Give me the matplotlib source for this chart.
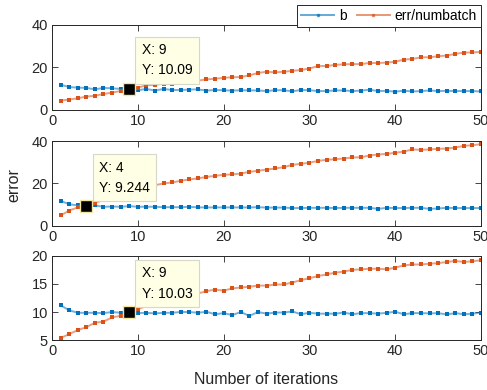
import matplotlib as mpl
mpl.use('Agg')
import matplotlib.pyplot as plt
import numpy as np

plt.rcParams['font.family'] = ['Liberation Sans', 'DejaVu Sans']

iters = np.arange(1, 51)

# run 1
b1 = [11.9, 10.8, 10.5, 10.4, 9.7, 10.4, 10.2, 9.9, 10.09, 9.3,
      9.9, 9.1, 9.9, 9.4, 9.4, 9.6, 9.7, 9.1, 9.4, 9.3,
      9.1, 9.3, 9.2, 9.2, 8.9, 9.3, 9.3, 8.8, 9.4, 9.3,
      8.9, 8.9, 9.2, 9.2, 8.9, 9.1, 9.5, 8.9, 9.0, 8.6,
      9.1, 8.7, 8.9, 9.2, 8.9, 9.0, 8.9, 8.9, 8.9, 8.7]
e1 = [4.4, 4.9, 5.5, 6.3, 6.7, 7.5, 8.2, 8.9, 9.6, 10.5,
      11.6, 11.8, 12.4, 12.4, 13.0, 13.3, 13.8, 14.4, 14.7, 15.1,
      15.4, 15.5, 16.3, 17.4, 18.0, 17.7, 18.0, 18.4, 18.8, 19.5,
      20.7, 20.7, 21.2, 21.5, 21.6, 21.6, 22.1, 22.1, 22.3, 22.7,
      23.7, 24.0, 24.8, 24.8, 25.3, 25.6, 26.4, 27.0, 27.1, 27.3]

# run 2
b2 = [11.8, 10.2, 9.6, 9.244, 9.6, 9.0, 9.1, 9.0, 9.3, 9.0,
      9.0, 9.0, 8.8, 8.8, 8.8, 9.0, 8.7, 8.7, 8.7, 8.7,
      8.7, 8.7, 8.7, 8.8, 8.6, 8.6, 8.6, 8.4, 8.4, 8.5,
      8.5, 8.5, 8.4, 8.5, 8.5, 8.5, 8.5, 8.0, 8.5, 8.4,
      8.4, 8.5, 8.5, 8.0, 8.2, 8.5, 8.4, 8.4, 8.4, 8.4]
e2 = [4.9, 7.2, 8.7, 9.8, 10.9, 12.1, 12.8, 13.6, 14.8, 16.4,
      17.9, 19.2, 20.0, 20.5, 21.3, 21.9, 22.4, 23.1, 23.6, 24.1,
      24.3, 24.7, 25.5, 26.0, 26.6, 27.1, 27.7, 28.8, 29.3, 29.8,
      30.7, 31.2, 31.5, 31.8, 32.3, 32.4, 33.2, 33.7, 34.0, 34.5,
      35.1, 36.1, 35.9, 36.1, 36.4, 36.5, 37.0, 37.8, 38.1, 38.6]

# run 3
b3 = [11.2, 10.3, 9.86, 9.86, 9.86, 9.8, 10.0, 9.86, 10.03, 9.8,
      9.86, 9.74, 9.86, 9.86, 10.0, 10.0, 9.86, 10.04, 9.6, 9.8,
      9.45, 10.0, 9.3, 10.0, 9.7, 9.9, 9.9, 10.1, 9.6, 9.86,
      9.7, 9.7, 9.7, 9.9, 9.6, 9.8, 9.8, 9.7, 9.86, 10.04,
      9.6, 9.8, 9.8, 9.75, 9.8, 9.56, 9.8, 9.6, 9.7, 9.9]
e3 = [5.36, 6.07, 6.78, 7.3, 8.08, 8.3, 9.03, 9.33, 9.9, 10.5,
      11.05, 11.46, 11.7, 12.2, 12.6, 12.9, 13.3, 13.7, 14.0, 13.8,
      14.2, 14.37, 14.5, 14.7, 14.7, 14.9, 14.9, 15.25, 15.67, 16.03,
      16.4, 16.7, 17.0, 17.2, 17.5, 17.6, 17.7, 17.7, 17.6, 17.9,
      18.3, 18.46, 18.46, 18.6, 18.7, 18.9, 19.1, 18.9, 19.05, 19.2]

panels = [(b1, e1, [0, 40], [0, 20, 40], 9, b1[8]),
          (b2, e2, [0, 40], [0, 20, 40], 4, b2[3]),
          (b3, e3, [5, 20], [5, 10, 15, 20], 9, b3[8])]

blue = '#0072BD'
orange = '#D95319'
dark = '#262626'

fig = plt.figure(figsize=(4.87, 3.9), dpi=100)
rects = [[0.1068, 0.718, 0.881, 0.218],
         [0.1068, 0.421, 0.881, 0.217],
         [0.1068, 0.128, 0.881, 0.216]]

for rect, (b, e, ylim, yticks, tx, ty) in zip(rects, panels):
    ax = fig.add_axes(rect)
    for y, c in [(b, blue), (e, orange)]:
        ax.plot(iters, y, '-', color=c, alpha=0.55, lw=1.4)
        ax.plot(iters, y, 's', color=c, ms=2.2, mew=0)
    ax.set_xlim(0, 50)
    ax.set_ylim(*ylim)
    ax.set_xticks([0, 10, 20, 30, 40, 50])
    ax.set_yticks(yticks)
    ax.tick_params(direction='in', top=True, right=True, length=4,
                   width=0.6, colors=dark, labelsize=10.5, pad=3)
    for s in ax.spines.values():
        s.set_color(dark)
        s.set_linewidth(0.7)

    # data tip
    ax.plot([tx], [ty], 's', color='black', ms=8.5, mec='#F2E6A0', mew=1, zorder=5)
    ax.annotate('X: %g\nY: %s' % (tx, ty), xy=(tx, ty), xytext=(9, 8),
                textcoords='offset points', ha='left', va='bottom',
                fontsize=10, color='black', linespacing=1.6, zorder=6,
                bbox=dict(boxstyle='square,pad=0.45', fc='#FFFFE6',
                          ec='#D8D8C8', lw=0.8))

handles = [plt.Line2D([], [], color=blue, alpha=0.6, lw=1.4, marker='s', ms=2,
                      mfc=blue, mec=blue),
           plt.Line2D([], [], color=orange, alpha=0.6, lw=1.4, marker='s', ms=2,
                      mfc=orange, mec=orange)]
leg = fig.legend(handles, ['b', 'err/numbatch'], loc='upper right',
                 bbox_to_anchor=(0.988, 0.988), ncol=2, fontsize=10,
                 frameon=True, fancybox=False, edgecolor=dark, framealpha=1,
                 borderpad=0.3, handlelength=2.4, handletextpad=0.35,
                 columnspacing=0.7, borderaxespad=0)
leg.get_frame().set_linewidth(0.7)

fig.text(0.028, 0.525, 'error', rotation=90, ha='center', va='center',
         fontsize=11.5, color=dark)
fig.text(0.547, 0.028, 'Number of iterations', ha='center', va='center',
         fontsize=11.5, color=dark)

fig.savefig('out.png', dpi=100)
